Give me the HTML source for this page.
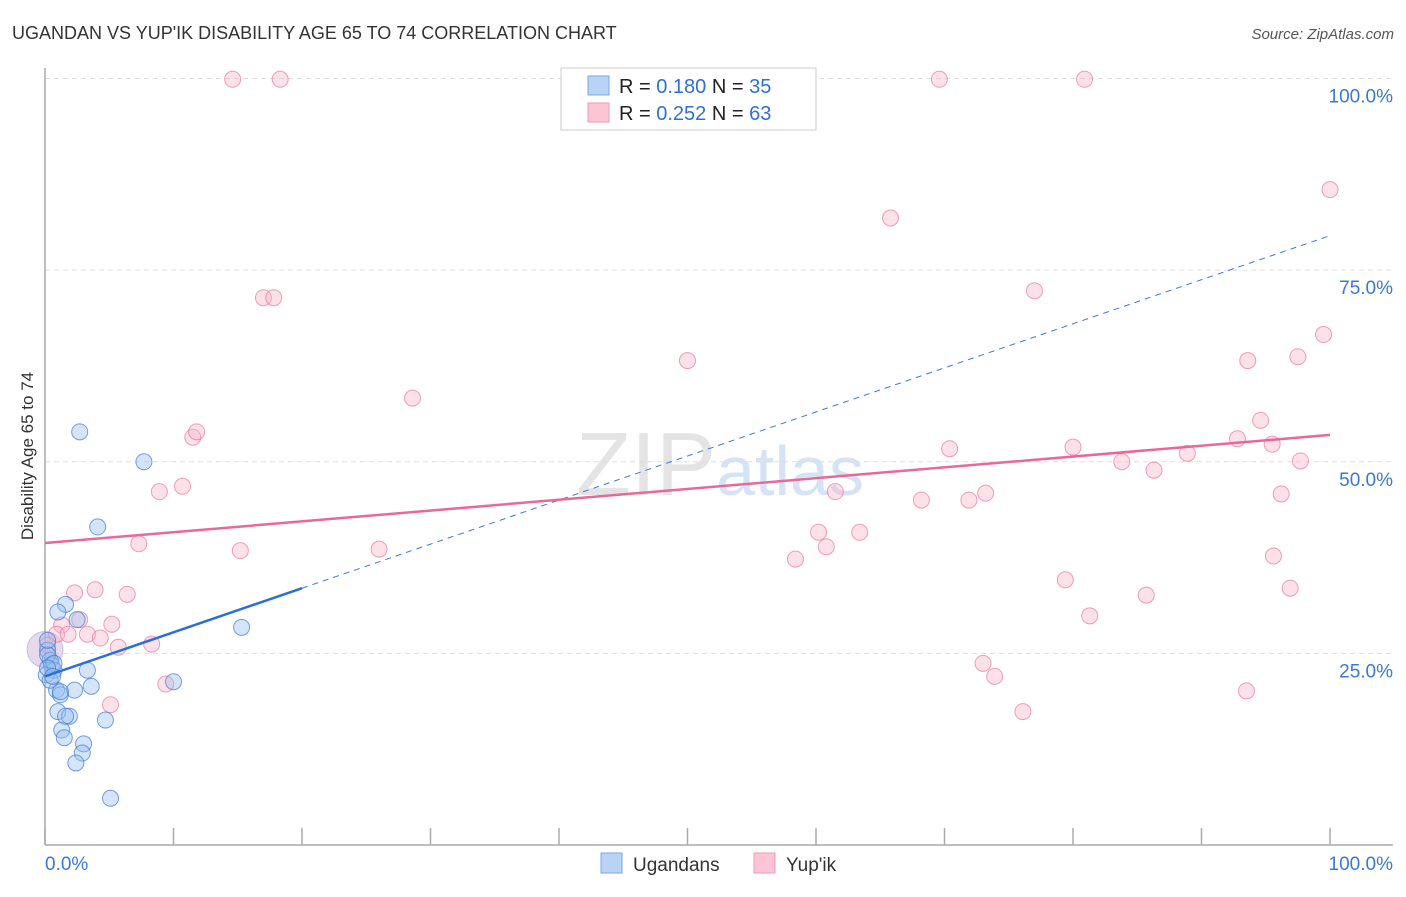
<!DOCTYPE html>
<html><head><meta charset="utf-8"><style>
body{margin:0;background:#fff;font-family:"Liberation Sans",sans-serif}
svg text{font-family:"Liberation Sans",sans-serif}
</style></head><body>
<svg id="c" width="1406" height="892" xmlns="http://www.w3.org/2000/svg">
<text x="12" y="39" font-size="18" fill="#333">UGANDAN VS YUP'IK DISABILITY AGE 65 TO 74 CORRELATION CHART</text>
<text x="1394" y="39" font-size="15" fill="#555" font-style="italic" text-anchor="end">Source: ZipAtlas.com</text>
<text x="33" y="456" font-size="17" fill="#333" text-anchor="middle" transform="rotate(-90 33 456)">Disability Age 65 to 74</text>
<text x="720" y="495" font-size="90" fill="#e4e4e4" text-anchor="middle" font-family="Liberation Serif">ZIP<tspan fill="#d5e3f5" font-family="Liberation Sans" font-size="70">atlas</tspan></text>
<g id="grid"></g><g id="axes"></g><g id="pts"></g><g id="lines"></g>
<g>
<rect x="561" y="68" width="255" height="62" fill="#fff" stroke="#ccc"/>
<rect x="588" y="76" width="21" height="19" fill="#b9d3f5" stroke="#7aa7e6"/>
<rect x="588" y="103" width="21" height="19" fill="#fcc5d5" stroke="#ec9ab4"/>
<text x="619" y="93" font-size="20" fill="#222">R = <tspan fill="#2f6fd6">0.180</tspan>   N = <tspan fill="#2f6fd6">35</tspan></text>
<text x="619" y="120" font-size="20" fill="#222">R = <tspan fill="#2f6fd6">0.252</tspan>   N = <tspan fill="#2f6fd6">63</tspan></text>
</g>
<g>
<rect x="601" y="853" width="21" height="20" fill="#b9d3f5" stroke="#7aa7e6"/>
<text x="633" y="871" font-size="19" fill="#333">Ugandans</text>
<rect x="754" y="853" width="21" height="20" fill="#fcc5d5" stroke="#ec9ab4"/>
<text x="786" y="871" font-size="19" fill="#333">Yup'ik</text>
</g>
</svg>
<script>
const blueX=[2.7,7.7,4.1,15.3,10.0,1.6,1.0,2.5,3.3,3.6,0.2,0.4,0.5,0.7,0.1,0.9,1.2,2.3,1.0,1.9,4.7,1.3,1.5,3.0,2.9,2.4,5.1,0.2,0.4,0.7,0.2,1.2,1.6,0.6,0.2];
const blueY=[53.9,50.0,41.5,28.4,21.3,31.4,30.4,29.4,22.8,20.7,25.4,24.1,23.5,22.8,22.2,20.2,19.6,20.2,17.4,16.8,16.3,15.0,14.0,13.2,12.0,10.7,6.1,24.8,21.5,23.7,23.1,20.0,16.8,22.0,26.7];
const pinkX=[14.6,18.3,69.6,80.9,100,65.8,17.0,17.8,77.0,99.5,50.0,93.6,97.5,28.6,11.5,11.8,94.6,92.8,95.5,70.4,80.0,88.9,83.8,86.3,97.7,8.9,10.7,61.5,68.2,71.9,73.2,96.2,60.2,63.4,60.8,7.3,15.2,26.0,58.4,95.6,79.4,85.7,96.9,2.3,3.9,6.4,81.3,2.7,5.2,1.3,0.9,1.8,3.3,4.3,5.7,8.3,0.2,73.0,73.9,9.4,5.1,76.1,93.5];
const pinkY=[99.9,99.9,99.9,99.9,85.5,81.8,71.4,71.4,72.3,66.6,63.2,63.2,63.7,58.3,53.2,53.9,55.4,53.0,52.3,51.7,51.9,51.1,50.0,48.9,50.1,46.1,46.8,46.1,45.0,45.0,45.9,45.8,40.8,40.8,38.9,39.3,38.4,38.6,37.3,37.7,34.6,32.6,33.5,32.9,33.3,32.7,29.9,29.4,28.8,28.7,27.5,27.5,27.5,27.0,25.8,26.2,26.1,23.7,22.0,21.0,18.3,17.4,20.1];
const yTicks=[25,50,75,100];
const yTickLabels=["25.0%","50.0%","75.0%","100.0%"];
const xTickLabels=["0.0%","100.0%"];
const blueTrend=[22.0,79.5];
const pinkTrend=[39.4,53.5];
const blueSolidEnd=20;
const NS="http://www.w3.org/2000/svg";
const X=v=>45+v*12.85, Y=v=>845-v*7.665;
function mk(t,a,p){const e=document.createElementNS(NS,t);for(const k in a)e.setAttribute(k,a[k]);p.appendChild(e);return e;}
const grid=document.getElementById('grid'),axes=document.getElementById('axes'),pts=document.getElementById('pts'),lines=document.getElementById('lines');
yTicks.forEach((t,i)=>{
 const l=mk('line',{x1:45,x2:1393,y1:Y(t),y2:Y(t),stroke:'#ddd','stroke-dasharray':'5,4'},grid);
 
 
 const tx=mk('text',{x:1393,y:Y(t)+24,'font-size':19,fill:'#3a78d8','text-anchor':'end'},axes);
 tx.textContent=yTickLabels[i];
 
 
});
const ya=mk('line',{x1:45,x2:45,y1:68,y2:845,stroke:'#aaa','stroke-width':1.5},axes);


const xa=mk('line',{x1:45,x2:1393,y1:845,y2:845,stroke:'#aaa','stroke-width':1.5},axes);


for(let i=0;i<=10;i++){const tk=mk('line',{x1:X(i*10),x2:X(i*10),y1:828,y2:845,stroke:'#aaa','stroke-width':1.5},axes);
 
 }
[[0,'start'],[100,'end']].forEach(([v,a],i)=>{const t=mk('text',{x:i?1393:45,y:870,'font-size':19,fill:'#3a78d8','text-anchor':a},axes);t.textContent=xTickLabels[i];
 
 });
const bigc=mk('circle',{cx:X(0),cy:Y(25.5),r:18,fill:'rgba(200,170,210,0.45)',stroke:'rgba(150,150,220,0.5)'},pts);


pinkX.forEach((x,i)=>{const c=mk('circle',{cx:X(x),cy:Y(pinkY[i]),r:8,fill:'rgba(250,180,200,0.4)',stroke:'rgba(230,120,155,0.7)'},pts);
 
 });
blueX.forEach((x,i)=>{const c=mk('circle',{cx:X(x),cy:Y(blueY[i]),r:8,fill:'rgba(150,190,240,0.4)',stroke:'rgba(60,120,210,0.7)'},pts);
 
 });
const bAt=v=>blueTrend[0]+(blueTrend[1]-blueTrend[0])*v/100;
const bd=mk('line',{x1:X(blueSolidEnd),y1:Y(bAt(blueSolidEnd)),x2:X(100),y2:Y(bAt(100)),stroke:'#3a78d8','stroke-width':1,'stroke-dasharray':'6,5'},lines);


const bs=mk('line',{x1:X(0),y1:Y(bAt(0)),x2:X(blueSolidEnd),y2:Y(bAt(blueSolidEnd)),stroke:'#2a6fd6','stroke-width':2.5},lines);


const pl=mk('line',{x1:X(0),y1:Y(pinkTrend[0]),x2:X(100),y2:Y(pinkTrend[1]),stroke:'#e8689a','stroke-width':2.5},lines);


</script>
</body></html>
